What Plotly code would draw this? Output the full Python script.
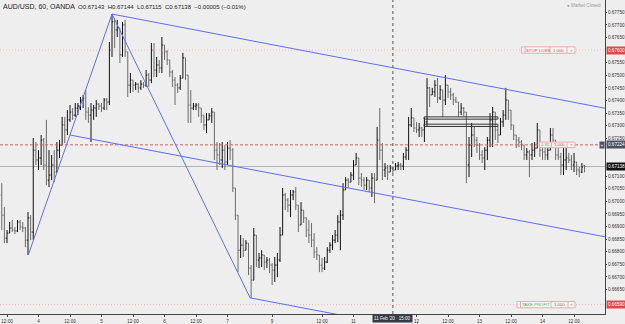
import numpy as np
import pandas as pd
import plotly.graph_objects as go

# ---------------- data ----------------
open_ = [
0.67025,0.66945,0.66854,0.66874,0.66894,0.66886,0.66882,0.66918,0.66898,0.66894,
0.66846,0.66934,0.66878,0.67203,0.67164,0.67172,0.67243,0.67144,0.67084,0.67104,
0.67144,0.67116,0.67203,0.67223,0.67303,0.67283,0.67323,0.67354,0.67342,0.67370,
0.67378,0.67402,0.67410,0.67354,0.67342,0.67362,0.67370,0.67386,0.67378,0.67370,
0.67402,0.67394,0.67600,0.67712,0.67680,0.67688,0.67581,0.67700,0.67593,0.67461,
0.67481,0.67461,0.67465,0.67450,0.67465,0.67461,0.67501,0.67481,0.67600,0.67521,
0.67541,0.67529,0.67620,0.67593,0.67561,0.67513,0.67481,0.67461,0.67450,0.67489,
0.67569,0.67501,0.67382,0.67370,0.67378,0.67382,0.67370,0.67342,0.67303,0.67323,
0.67339,0.67354,0.67203,0.67184,0.67164,0.67203,0.67156,0.67211,0.67203,0.67053,
0.66945,0.66806,0.66826,0.66806,0.66834,0.66735,0.66687,0.66866,0.66767,0.66775,
0.66787,0.66759,0.66767,0.66747,0.66727,0.66747,0.66767,0.66866,0.67025,0.67005,
0.66985,0.67025,0.67037,0.66985,0.66906,0.66965,0.66934,0.66886,0.66866,0.66846,
0.66799,0.66787,0.66747,0.66735,0.66759,0.66806,0.66826,0.66846,0.66866,0.66918,
0.66945,0.67045,0.67084,0.67076,0.67104,0.67144,0.67172,0.67092,0.67084,0.67064,
0.67084,0.67053,0.67092,0.67084,0.67243,0.67203,0.67124,0.67132,0.67116,0.67132,
0.67124,0.67140,0.67144,0.67140,0.67176,0.67203,0.67303,0.67331,0.67291,0.67283,
0.67291,0.67283,0.67315,0.67450,0.67422,0.67434,0.67461,0.67410,0.67442,0.67402,
0.67461,0.67434,0.67422,0.67402,0.67394,0.67354,0.67370,0.67354,0.67144,0.67223,
0.67263,0.67243,0.67223,0.67184,0.67172,0.67203,0.67243,0.67323,0.67354,0.67283,
0.67263,0.67315,0.67342,0.67402,0.67362,0.67303,0.67263,0.67243,0.67235,0.67223,
0.67184,0.67196,0.67184,0.67203,0.67211,0.67283,0.67203,0.67196,0.67184,0.67203,
0.67263,0.67243,0.67184,0.67176,0.67144,0.67164,0.67172,0.67164,0.67144,0.67156,
0.67124,0.67116,0.67143]

high = [
0.67072,0.66977,0.66886,0.66918,0.66926,0.66898,0.66926,0.66926,0.66918,0.66898,
0.66957,0.66945,0.67251,0.67235,0.67203,0.67263,0.67251,0.67323,0.67203,0.67184,
0.67203,0.67235,0.67243,0.67335,0.67335,0.67362,0.67382,0.67370,0.67390,0.67390,
0.67414,0.67422,0.67442,0.67374,0.67390,0.67382,0.67402,0.67390,0.67390,0.67410,
0.67410,0.67632,0.67743,0.67728,0.67720,0.67688,0.67712,0.67720,0.67593,0.67509,
0.67481,0.67473,0.67469,0.67481,0.67473,0.67521,0.67509,0.67628,0.67628,0.67573,
0.67561,0.67652,0.67620,0.67600,0.67561,0.67521,0.67493,0.67469,0.67501,0.67589,
0.67569,0.67501,0.67442,0.67390,0.67390,0.67390,0.67370,0.67342,0.67350,0.67350,
0.67370,0.67354,0.67235,0.67231,0.67235,0.67223,0.67235,0.67243,0.67211,0.67053,
0.66945,0.66866,0.66854,0.66846,0.66834,0.66747,0.66894,0.66866,0.66795,0.66806,
0.66787,0.66779,0.66775,0.66755,0.66779,0.66795,0.66898,0.67053,0.67033,0.67013,
0.67045,0.67045,0.67057,0.66985,0.66997,0.66965,0.66937,0.66926,0.66914,0.66874,
0.66818,0.66787,0.66775,0.66779,0.66818,0.66838,0.66866,0.66886,0.66945,0.66965,
0.67072,0.67096,0.67092,0.67116,0.67164,0.67192,0.67172,0.67112,0.67096,0.67096,
0.67084,0.67112,0.67112,0.67295,0.67370,0.67231,0.67152,0.67144,0.67144,0.67136,
0.67152,0.67156,0.67152,0.67192,0.67215,0.67335,0.67370,0.67331,0.67315,0.67311,
0.67295,0.67331,0.67489,0.67454,0.67450,0.67481,0.67489,0.67461,0.67442,0.67501,
0.67461,0.67450,0.67430,0.67414,0.67394,0.67390,0.67374,0.67354,0.67255,0.67311,
0.67295,0.67255,0.67231,0.67203,0.67215,0.67255,0.67350,0.67374,0.67354,0.67295,
0.67331,0.67362,0.67450,0.67402,0.67362,0.67303,0.67263,0.67255,0.67243,0.67223,
0.67211,0.67203,0.67231,0.67235,0.67311,0.67283,0.67231,0.67215,0.67231,0.67291,
0.67291,0.67243,0.67211,0.67192,0.67215,0.67215,0.67192,0.67184,0.67192,0.67156,
0.67136,0.67152,0.67144]

low = [
0.66886,0.66834,0.66834,0.66874,0.66878,0.66870,0.66878,0.66886,0.66878,0.66818,
0.66787,0.66846,0.66846,0.67144,0.67124,0.67144,0.67124,0.67064,0.67057,0.67084,
0.67076,0.67116,0.67172,0.67223,0.67231,0.67263,0.67315,0.67323,0.67335,0.67342,
0.67362,0.67370,0.67323,0.67311,0.67235,0.67323,0.67335,0.67362,0.67354,0.67362,
0.67362,0.67382,0.67573,0.67608,0.67652,0.67549,0.67573,0.67573,0.67414,0.67430,
0.67434,0.67442,0.67430,0.67442,0.67450,0.67454,0.67454,0.67469,0.67493,0.67493,
0.67509,0.67509,0.67561,0.67541,0.67493,0.67454,0.67382,0.67430,0.67442,0.67489,
0.67481,0.67311,0.67311,0.67362,0.67362,0.67335,0.67311,0.67283,0.67271,0.67323,
0.67311,0.67164,0.67124,0.67144,0.67132,0.67124,0.67144,0.67164,0.67037,0.66926,
0.66719,0.66775,0.66779,0.66806,0.66707,0.66616,0.66687,0.66739,0.66735,0.66739,
0.66727,0.66735,0.66715,0.66668,0.66680,0.66699,0.66759,0.66866,0.66965,0.66957,
0.66937,0.67005,0.66965,0.66878,0.66906,0.66914,0.66858,0.66834,0.66818,0.66775,
0.66767,0.66719,0.66719,0.66727,0.66755,0.66795,0.66806,0.66834,0.66838,0.66806,
0.66926,0.67045,0.67053,0.67076,0.67084,0.67144,0.67064,0.67057,0.67045,0.67045,
0.67037,0.67017,0.66993,0.67084,0.67164,0.67084,0.67096,0.67084,0.67116,0.67112,
0.67124,0.67124,0.67124,0.67124,0.67164,0.67164,0.67295,0.67275,0.67271,0.67255,
0.67255,0.67235,0.67295,0.67374,0.67422,0.67414,0.67390,0.67402,0.67335,0.67382,
0.67410,0.67402,0.67382,0.67390,0.67335,0.67342,0.67335,0.67072,0.67096,0.67176,
0.67215,0.67192,0.67164,0.67152,0.67124,0.67164,0.67215,0.67215,0.67243,0.67231,
0.67263,0.67295,0.67323,0.67323,0.67283,0.67243,0.67211,0.67215,0.67203,0.67164,
0.67164,0.67096,0.67164,0.67176,0.67211,0.67176,0.67164,0.67164,0.67164,0.67203,
0.67215,0.67164,0.67164,0.67104,0.67104,0.67124,0.67152,0.67124,0.67116,0.67104,
0.67096,0.67112,0.67115]

close = [
0.66945,0.66854,0.66874,0.66894,0.66886,0.66882,0.66918,0.66898,0.66894,0.66846,
0.66934,0.66878,0.67203,0.67164,0.67172,0.67243,0.67144,0.67084,0.67104,0.67144,
0.67116,0.67203,0.67223,0.67303,0.67283,0.67323,0.67354,0.67342,0.67370,0.67378,
0.67402,0.67410,0.67354,0.67342,0.67362,0.67370,0.67386,0.67378,0.67370,0.67402,
0.67394,0.67600,0.67712,0.67680,0.67688,0.67581,0.67700,0.67593,0.67461,0.67481,
0.67461,0.67465,0.67450,0.67465,0.67461,0.67501,0.67481,0.67600,0.67521,0.67541,
0.67529,0.67620,0.67593,0.67561,0.67513,0.67481,0.67461,0.67450,0.67489,0.67569,
0.67501,0.67382,0.67370,0.67378,0.67382,0.67370,0.67342,0.67303,0.67323,0.67339,
0.67354,0.67203,0.67184,0.67164,0.67203,0.67156,0.67211,0.67203,0.67053,0.66945,
0.66806,0.66826,0.66806,0.66834,0.66735,0.66687,0.66866,0.66767,0.66775,0.66787,
0.66759,0.66767,0.66747,0.66727,0.66747,0.66767,0.66866,0.67025,0.67005,0.66985,
0.67025,0.67037,0.66985,0.66906,0.66965,0.66934,0.66886,0.66866,0.66846,0.66799,
0.66787,0.66747,0.66735,0.66759,0.66806,0.66826,0.66846,0.66866,0.66918,0.66945,
0.67045,0.67084,0.67076,0.67104,0.67144,0.67172,0.67092,0.67084,0.67064,0.67084,
0.67053,0.67092,0.67084,0.67243,0.67203,0.67124,0.67132,0.67116,0.67132,0.67124,
0.67140,0.67144,0.67140,0.67176,0.67203,0.67303,0.67331,0.67291,0.67283,0.67291,
0.67283,0.67315,0.67450,0.67422,0.67434,0.67461,0.67410,0.67442,0.67402,0.67461,
0.67434,0.67422,0.67402,0.67394,0.67354,0.67370,0.67354,0.67144,0.67223,0.67263,
0.67243,0.67223,0.67184,0.67172,0.67203,0.67243,0.67323,0.67354,0.67283,0.67263,
0.67315,0.67342,0.67402,0.67362,0.67303,0.67263,0.67243,0.67235,0.67223,0.67184,
0.67196,0.67184,0.67203,0.67211,0.67283,0.67203,0.67196,0.67184,0.67203,0.67263,
0.67243,0.67184,0.67176,0.67144,0.67164,0.67172,0.67164,0.67144,0.67156,0.67124,
0.67116,0.67136,0.67138]

# time-axis labels (the 11 Feb 12:00 label is hidden under the crosshair label)
tick_times = ["2020-02-03 12:00", "2020-02-04 00:00", "2020-02-04 12:00", "2020-02-05 00:00",
              "2020-02-05 12:00", "2020-02-06 00:00", "2020-02-06 12:00", "2020-02-07 00:00",
              "2020-02-09 17:00", "2020-02-10 12:00", "2020-02-11 00:00",
              "2020-02-12 00:00", "2020-02-12 12:00", "2020-02-13 00:00", "2020-02-13 12:00",
              "2020-02-14 00:00", "2020-02-14 12:00"]
tick_labels = ["12:00", "4", "12:00", "5", "12:00", "6", "12:00", "7", "9", "12:00",
               "11", "12", "12:00", "13", "12:00", "14", "12:00"]

price_ticks = [0.6775, 0.6770, 0.6765, 0.6755, 0.6750, 0.6745, 0.6740, 0.6735, 0.6730,
               0.6725, 0.6710, 0.6705, 0.6700, 0.6695, 0.6690, 0.6685, 0.6680, 0.6675,
               0.6670, 0.6665]

stop_loss = 0.67600
entry_price = 0.67224
last_price = 0.67138
take_profit = 0.66590
crosshair_time = "2020-02-11 15:00"

# trend lines: (bar position 0, price 0, bar position 1, price 1)
trend_lines = [
    (10.1, 0.66787, 42.0, 0.67743),
    (42.0, 0.67743, 94.6, 0.66617),
    (42.0, 0.67743, 229.9, 0.67369),
    (26.0, 0.67263, 229.9, 0.66859),
    (94.6, 0.66617, 229.9, 0.66348),
]
# rectangles: (bar pos 0, bar pos 1, price top, price bottom)
rectangles = [
    (160.9, 189.0, 0.67335, 0.67326),
    (160.9, 189.0, 0.67306, 0.67297),
]

# ---------------- figure ----------------
session1 = pd.date_range("2020-02-03 10:00", "2020-02-07 16:00", freq="h")
session2 = pd.date_range("2020-02-09 17:00", "2020-02-14 16:00", freq="h")
times = session1.append(session2)
pos = np.arange(len(times))
tick_pos = [int(times.get_loc(pd.Timestamp(t))) for t in tick_times]
cross_pos = int(times.get_loc(pd.Timestamp(crosshair_time)))

W, H = 625, 324
PW, PH = 605, 314
YMIN, YMAX = 0.665528, 0.677988
XMIN, XMAX = -0.67, 229.8
ppx = (YMAX - YMIN) / PH
FONT = "Liberation Sans, Arial, sans-serif"
BG = "#eeeeee"
AX_FS = 4.6

fig = go.Figure(go.Ohlc(
    x=pos, open=open_, high=high, low=low, close=close,
    increasing=dict(line=dict(color="#111111", width=1)),
    decreasing=dict(line=dict(color="#6a6a6a", width=1)),
    tickwidth=0.4, hoverinfo="skip"))

shapes = []
annotations = []

def px2paper(px):
    return px / PW

# horizontal price lines
shapes.append(dict(type="line", xref="paper", x0=0, x1=1, yref="y", y0=stop_loss, y1=stop_loss,
                   line=dict(color="#efb9b9", width=1, dash="1px,2px")))
shapes.append(dict(type="line", xref="paper", x0=0, x1=1, yref="y", y0=take_profit, y1=take_profit,
                   line=dict(color="#efb9b9", width=1, dash="1px,2px")))
shapes.append(dict(type="line", xref="paper", x0=0, x1=1, yref="y", y0=last_price, y1=last_price,
                   line=dict(color="#b4b4b4", width=1), layer="below"))
shapes.append(dict(type="line", xref="paper", x0=0, x1=1, yref="y", y0=entry_price, y1=entry_price,
                   line=dict(color="#c9625f", width=1, dash="3px,2px")))
# crosshair
shapes.append(dict(type="line", xref="x", x0=cross_pos, x1=cross_pos, yref="paper", y0=0, y1=1,
                   line=dict(color="#555555", width=1, dash="3px,3px")))
# trend lines
for x0, y0, x1, y1 in trend_lines:
    shapes.append(dict(type="line", xref="x", yref="y", x0=x0, y0=y0, x1=x1, y1=y1,
                       line=dict(color="#5b6ef2", width=1)))
# rectangles
for x0, x1, yt, yb in rectangles:
    shapes.append(dict(type="rect", xref="x", yref="y", x0=x0, x1=x1, y0=yb, y1=yt,
                       line=dict(color="#333333", width=1), fillcolor="rgba(0,0,0,0)"))

# order boxes
def order_box(price, segs, half=3.2, border="#eeaaaa"):
    x0 = segs[0][0]
    x1 = segs[-1][1]
    shapes.append(dict(type="rect", xref="paper", yref="y", x0=px2paper(x0), x1=px2paper(x1),
                       y0=price - half * ppx, y1=price + half * ppx,
                       line=dict(color=border, width=1), fillcolor="rgba(250,244,244,0.95)"))
    for a, b, txt, col in segs[1:]:
        shapes.append(dict(type="line", xref="paper", yref="y", x0=px2paper(a), x1=px2paper(a),
                           y0=price - half * ppx, y1=price + half * ppx,
                           line=dict(color=border, width=1)))
    for a, b, txt, col in segs:
        if txt:
            annotations.append(dict(xref="paper", yref="y", x=px2paper((a + b) / 2), y=price,
                                    text=txt, showarrow=False, xanchor="center", yanchor="middle",
                                    font=dict(size=4.3, color=col, family=FONT)))

RED = "#e0464a"
GREEN = "#4caf50"
order_box(stop_loss, [(521.5, 525, "", None), (525, 550, "STOP LOSS", RED),
                      (550, 567, "1.000", RED), (567, 575, "×", RED)])
order_box(entry_price, [(539.5, 551.5, "0.95", GREEN), (551.5, 567, "1.000", RED),
                        (567, 575, "×", RED)], half=2.8)
order_box(take_profit, [(517, 520.5, "", None), (520.5, 551, "TAKE PROFIT", GREEN),
                        (551, 568, "1.000", RED), (568, 575, "×", RED)])

# right-axis price badges
def badge(price, bg, text_col="white"):
    annotations.append(dict(xref="paper", yref="y", x=1, y=price, xanchor="left", yanchor="middle",
                            text=f"{price:.5f}", showarrow=False, bgcolor=bg, borderpad=1,
                            xshift=0.5,
                            font=dict(size=AX_FS, color=text_col, family=FONT)))

badge(stop_loss, "#e04848")
badge(entry_price, "#4b5160")
badge(last_price, "#111111")
badge(take_profit, "#e04848")
annotations.append(dict(xref="paper", yref="y", x=px2paper(601.5), y=entry_price, xanchor="center",
                        yanchor="middle", text="+", showarrow=False, bgcolor="#4b5160",
                        borderpad=0.5, font=dict(size=AX_FS, color="white", family=FONT)))

# crosshair time label
annotations.append(dict(xref="x", yref="paper", x=cross_pos, y=0, yanchor="top", xanchor="center",
                        text="11 Feb '20 · 15:00", showarrow=False, bgcolor="#363a45", borderpad=1,
                        xshift=-0.5,
                        font=dict(size=4.5, color="white", family=FONT)))

# title / legend text
annotations.append(dict(xref="paper", yref="paper", x=px2paper(1), y=1 - 1 / PH, xanchor="left",
                        yanchor="top", text="AUD/USD, 60, OANDA", showarrow=False,
                        font=dict(size=7, color="#222222", family=FONT)))
annotations.append(dict(xref="paper", yref="paper", x=px2paper(76), y=1 - 1.5 / PH, xanchor="left",
                        yanchor="top",
                        text="O0.67143  H0.67144  L0.67115  C0.67138  −0.00005 (−0.01%)",
                        showarrow=False, font=dict(size=6, color="#222222", family=FONT)))
annotations.append(dict(xref="paper", yref="paper", x=px2paper(603), y=1 - 1 / PH, xanchor="right",
                        yanchor="top", text="● Market Closed", showarrow=False,
                        font=dict(size=AX_FS, color="#999999", family=FONT)))

fig.update_layout(
    width=W, height=H,
    margin=dict(l=0, r=W - PW, t=0, b=H - PH),
    paper_bgcolor=BG, plot_bgcolor=BG,
    showlegend=False,
    shapes=shapes, annotations=annotations,
    xaxis=dict(range=[XMIN, XMAX], tickmode="array", tickvals=tick_pos, ticktext=tick_labels,
               showgrid=False, zeroline=False, showline=True, linecolor="#444444", linewidth=1,
               ticks="outside", ticklen=2, tickcolor="#444444",
               tickfont=dict(size=AX_FS, color="#333333", family=FONT),
               rangeslider=dict(visible=False), fixedrange=True, automargin=False),
    yaxis=dict(range=[YMIN, YMAX], side="right", tickmode="array", tickvals=price_ticks,
               ticktext=[f"{v:.5f}" for v in price_ticks],
               showgrid=False, zeroline=False, showline=True, linecolor="#444444", linewidth=1,
               ticks="outside", ticklen=1, tickcolor="#444444",
               tickfont=dict(size=AX_FS, color="#333333", family=FONT),
               fixedrange=True, automargin=False),
)

fig.write_html("out.html")
